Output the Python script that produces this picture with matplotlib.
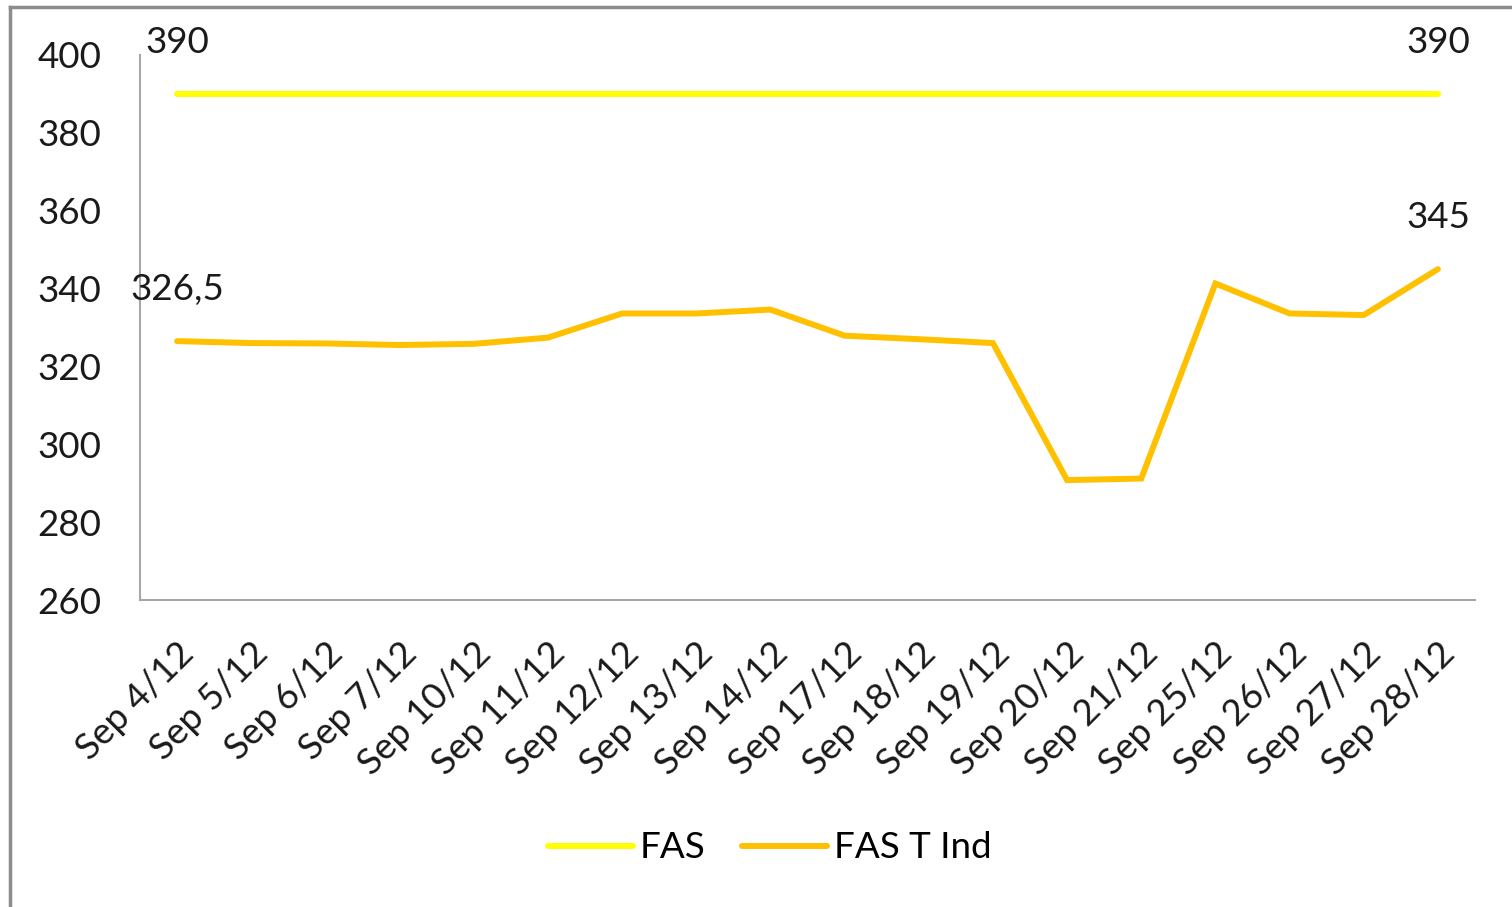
import matplotlib
matplotlib.use("Agg")
import matplotlib.pyplot as plt
from matplotlib.lines import Line2D

# Data
dates = ["Sep 4/12", "Sep 5/12", "Sep 6/12", "Sep 7/12", "Sep 10/12", "Sep 11/12",
         "Sep 12/12", "Sep 13/12", "Sep 14/12", "Sep 17/12", "Sep 18/12", "Sep 19/12",
         "Sep 20/12", "Sep 21/12", "Sep 25/12", "Sep 26/12", "Sep 27/12", "Sep 28/12"]
fas = [390] * len(dates)
fas_t_ind = [326.5, 326.0, 325.9, 325.5, 325.8, 327.4, 333.6, 333.6, 334.6, 327.9,
             327.0, 326.0, 290.8, 291.2, 341.3, 333.6, 333.2, 345]
y_ticks = [260, 280, 300, 320, 340, 360, 380, 400]

FONT = "Lato"
FS = 26.5

plt.rcParams["font.family"] = [FONT, "DejaVu Sans"]

fig = plt.figure(figsize=(15.12, 9.07), dpi=100)
ax = fig.add_axes([140 / 1512, 1 - 600 / 907, (1475 - 140) / 1512, (600 - 55) / 907])

x = list(range(len(dates)))
ax.plot(x, fas, color="#FFFF00", lw=4.3, solid_capstyle="round", label="FAS")
ax.plot(x, fas_t_ind, color="#FFC000", lw=4.3, solid_capstyle="round",
        solid_joinstyle="miter", label="FAS T Ind")

# data labels at first and last points
def fmt(v):
    return f"{v:g}".replace(".", ",")

for series in (fas, fas_t_ind):
    for i in (0, len(series) - 1):
        ax.annotate(fmt(series[i]), (x[i], series[i]), xytext=(0, 37),
                    textcoords="offset points", ha="center", va="center",
                    fontsize=FS, color="#1a1a1a")

ax.set_xlim(-0.5, len(dates) - 0.5)
ax.set_ylim(260, 400)
ax.set_yticks(y_ticks)
ax.set_xticks(x)
ax.set_xticklabels(dates, rotation=45, ha="right", rotation_mode="anchor")
ax.tick_params(axis="both", length=0, labelsize=FS, colors="#1a1a1a")
ax.tick_params(axis="x", pad=26)
ax.tick_params(axis="y", pad=28)

for side in ("top", "right"):
    ax.spines[side].set_visible(False)
for side in ("left", "bottom"):
    ax.spines[side].set_color("#A6A6A6")
    ax.spines[side].set_linewidth(1.5)

fig.legend(loc="center", bbox_to_anchor=(770 / 1512, 1 - 848 / 907), ncol=2,
           frameon=False, fontsize=FS, handlelength=2.3, handletextpad=0.2,
           columnspacing=1.0)

# outer grey frame (left and top edges visible)
fig.add_artist(Line2D([10 / 1512, 10 / 1512], [0, 1 - 7 / 907], color="#8C8C8C",
                      lw=2.5, transform=fig.transFigure))
fig.add_artist(Line2D([10 / 1512, 1], [1 - 7 / 907, 1 - 7 / 907], color="#8C8C8C",
                      lw=2.5, transform=fig.transFigure))

fig.savefig("out.png", dpi=100, facecolor="white")
